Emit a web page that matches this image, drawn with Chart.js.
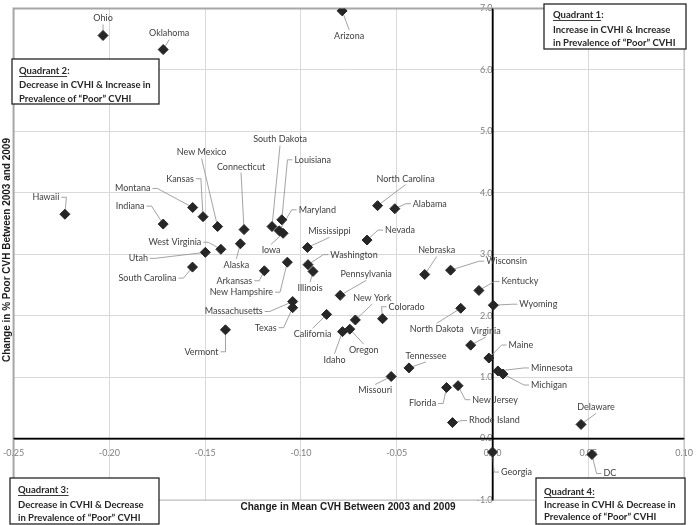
<!DOCTYPE html>
<html>
<head>
<meta charset="utf-8">
<script src="https://cdn.jsdelivr.net/npm/chart.js@4.4.1/dist/chart.umd.min.js"></script>
<style>
  html, body { margin: 0; padding: 0; background: #fff; }
  #wrap { width: 696px; height: 525px; }
</style>
</head>
<body>
<div id="wrap"><canvas id="chart"></canvas></div>
<script>
// values
const states = [
  "Ohio", "Oklahoma", "Arizona", "Hawaii", "Indiana", "Montana", "Kansas",
  "New Mexico", "Connecticut", "South Dakota", "Louisiana", "Maryland", "Iowa",
  "Mississippi", "West Virginia", "Alaska", "Utah", "South Carolina", "Arkansas",
  "New Hampshire", "Washington", "Illinois", "Massachusetts", "Texas", "Vermont",
  "California", "Pennsylvania", "Idaho", "Oregon", "New York", "Colorado",
  "North Carolina", "Alabama", "Nevada", "Nebraska", "Wisconsin", "Kentucky",
  "Wyoming", "North Dakota", "Virginia", "Maine", "Minnesota", "Michigan",
  "Tennessee", "Missouri", "Florida", "New Jersey", "Rhode Island", "Delaware",
  "Georgia", "DC"
];
const cvhChange = [
  -0.2033, -0.1719, -0.0785, -0.2232, -0.1719, -0.1565, -0.1511,
  -0.1435, -0.1297, -0.1151, -0.1100, -0.1113, -0.1093,
  -0.0966, -0.1418, -0.1316, -0.1499, -0.1566, -0.1191,
  -0.1071, -0.0963, -0.0937, -0.1043, -0.1043, -0.1394,
  -0.0866, -0.0795, -0.0783, -0.0745, -0.0716, -0.0574,
  -0.0600, -0.0510, -0.0655, -0.0354, -0.0219, -0.0071,
  0.0004, -0.0166, -0.0114, -0.0019, 0.0028, 0.0055,
  -0.0436, -0.0529, -0.0240, -0.0180, -0.0209, 0.0462,
  0.0000, 0.0519
];
const poorChange = [
  6.56, 6.33, 6.96, 3.65, 3.49, 3.76, 3.61,
  3.45, 3.40, 3.45, 3.56, 3.38, 3.34,
  3.11, 3.08, 3.17, 3.03, 2.79, 2.73,
  2.87, 2.83, 2.72, 2.23, 2.13, 1.77,
  2.02, 2.33, 1.74, 1.78, 1.93, 1.95,
  3.79, 3.74, 3.23, 2.67, 2.74, 2.41,
  2.17, 2.12, 1.52, 1.31, 1.10, 1.05,
  1.15, 1.01, 0.83, 0.86, 0.26, 0.23,
  -0.22, -0.26
];
const xTicks = [-0.25, -0.20, -0.15, -0.10, -0.05, 0.00, 0.05, 0.10];
const yTicks = [-1, 0, 1, 2, 3, 4, 5, 6, 7];
const xTitle = "Change in Mean CVH Between 2003 and 2009";
const yTitle = "Change in % Poor CVH Between 2003 and 2009";

// label placement (pixel offset of label centre from its marker)
const labelOffsets = [
  [0, -17], [6, -16], [7, 25], [-19, -17], [-33, -18], [-60, -19], [-23, -38],
  [-16, -74], [-3, -63], [8, -87], [31, -60], [38, -21], [-12, 17],
  [22, -16], [-46, -7], [-4, 21], [-67, 6], [-45, 11], [-30, 10],
  [-46, 30], [46, -10], [-3, 17], [-59, 10], [-27, 20], [-24, 22],
  [-14, 20], [26, -21], [-8, 28], [14, 21], [17, -22], [24, -12],
  [28, -27], [35, -5], [33, -10], [12, -24], [56, -9], [41, -9],
  [45, -1], [-24, 21], [15, -14], [32, -13], [54, -3], [46, 11],
  [17, -12], [-16, 14], [-24, 16], [37, 14], [42, -2], [15, -17],
  [24, 20], [18, 19]
];

const quadrants = [
  { box: [544, 4, 142, 45], textX: 553, lineY: [15, 30, 43],
    head: "Quadrant 1", tail: ":", lines: ["Increase in CVHI & Increase", "in Prevalence of \u201cPoor\u201d CVHI"] },
  { box: [12, 59, 147, 45], textX: 19, lineY: [71, 85, 99],
    head: "Quadrant 2", tail: ":", lines: ["Decrease in CVHI & Increase in", "Prevalence of \u201cPoor\u201d CVHI"] },
  { box: [10, 478, 149, 46], textX: 18, lineY: [490, 505, 518],
    head: "Quadrant 3:", tail: "", lines: ["Decrease in CVHI & Decrease", "in Prevalence of \u201cPoor\u201d CVHI"] },
  { box: [536, 478, 149, 46], textX: 544, lineY: [492, 505, 517],
    head: "Quadrant 4:", tail: "", lines: ["Increase in CVHI & Decrease in", "Prevalence of \u201cPoor\u201d CVHI"] }
];

const points = states.map((s, i) => ({ x: cvhChange[i], y: poorChange[i] }));
const labelFont = "9px Lato";

const fmt = (v, d) => (Math.abs(v) < 1e-9 ? 0 : v).toFixed(d);

const frame = {
  id: "frame",
  beforeDatasetsDraw(chart) {
    const { ctx, chartArea: a } = chart;
    ctx.save();
    ctx.strokeStyle = "#a6a6a6";
    ctx.lineWidth = 2;
    ctx.beginPath();
    ctx.moveTo(a.left, a.bottom);
    ctx.lineTo(a.left, a.top);
    ctx.lineTo(a.right, a.top);
    ctx.stroke();
    ctx.lineWidth = 1.2;
    ctx.strokeStyle = "#bfbfbf";
    ctx.beginPath();
    ctx.moveTo(a.right, a.top);
    ctx.lineTo(a.right, a.bottom);
    ctx.lineTo(a.left, a.bottom);
    ctx.stroke();
    // redraw the crossing axes over the frame
    const x0 = chart.scales.x.getPixelForValue(0);
    const y0 = chart.scales.y.getPixelForValue(0);
    ctx.strokeStyle = "#000";
    ctx.lineWidth = 1.5;
    ctx.beginPath();
    ctx.moveTo(x0, a.top); ctx.lineTo(x0, a.bottom);
    ctx.moveTo(a.left, y0); ctx.lineTo(a.right, y0);
    ctx.stroke();
    ctx.restore();
  }
};

const stateLabels = {
  id: "stateLabels",
  beforeDatasetsDraw(chart) {
    const { ctx } = chart;
    const meta = chart.getDatasetMeta(0);
    ctx.save();
    ctx.font = labelFont;
    ctx.strokeStyle = "#8c8c8c";
    ctx.lineWidth = 0.8;
    meta.data.forEach((pt, i) => {
      const [dx, dy] = labelOffsets[i];
      const lx = pt.x + dx, ly = pt.y + dy;
      const w = ctx.measureText(states[i]).width;
      let ax, ay, sx, sy;
      if (Math.abs(dx) > w / 2 + 3) {
        const s = Math.sign(dx);
        ax = lx - s * (w / 2 + 2); ay = ly;
        sx = ax - s * 5; sy = ay;
      } else {
        ax = lx; ay = ly - Math.sign(dy) * 6;
        sx = ax; sy = ay;
      }
      if (Math.hypot(pt.x - ax, pt.y - ay) < 8) return;
      ctx.beginPath();
      ctx.moveTo(ax, ay);
      ctx.lineTo(sx, sy);
      ctx.lineTo(pt.x, pt.y);
      ctx.stroke();
    });
    ctx.restore();
  },
  afterDatasetsDraw(chart) {
    const { ctx } = chart;
    const meta = chart.getDatasetMeta(0);
    ctx.save();
    ctx.font = labelFont;
    ctx.fillStyle = "#404040";
    ctx.textAlign = "center";
    ctx.textBaseline = "middle";
    meta.data.forEach((pt, i) => {
      const [dx, dy] = labelOffsets[i];
      ctx.fillText(states[i], pt.x + dx, pt.y + dy);
    });
    ctx.restore();
  }
};

const annotations = {
  id: "annotations",
  afterDraw(chart) {
    const { ctx, chartArea: a } = chart;
    ctx.save();
    ctx.fillStyle = "#1a1a1a";
    ctx.font = "bold 10px 'Liberation Sans', Arial, sans-serif";
    ctx.textAlign = "center";
    ctx.textBaseline = "middle";
    ctx.fillText(xTitle, 348, 507);
    ctx.translate(7, 250);
    ctx.rotate(-Math.PI / 2);
    ctx.fillText(yTitle, 0, 0);
    ctx.restore();

    quadrants.forEach(q => {
      const [bx, by, bw, bh] = q.box;
      ctx.save();
      ctx.fillStyle = "#fff";
      ctx.fillRect(bx, by, bw, bh);
      ctx.strokeStyle = "#262626";
      ctx.lineWidth = 1.3;
      ctx.strokeRect(bx, by, bw, bh);
      ctx.fillStyle = "#262626";
      ctx.font = "bold 9.5px Lato";
      ctx.textAlign = "left";
      ctx.textBaseline = "middle";
      const hw = ctx.measureText(q.head).width;
      ctx.fillText(q.head, q.textX, q.lineY[0]);
      ctx.fillText(q.tail, q.textX + hw, q.lineY[0]);
      ctx.lineWidth = 0.9;
      ctx.beginPath();
      ctx.moveTo(q.textX, q.lineY[0] + 5.5);
      ctx.lineTo(q.textX + hw, q.lineY[0] + 5.5);
      ctx.stroke();
      q.lines.forEach((t, k) => ctx.fillText(t, q.textX, q.lineY[k + 1]));
      ctx.restore();
    });
  }
};

new Chart(document.getElementById("chart"), {
  type: "scatter",
  data: {
    datasets: [{
      data: points,
      pointStyle: "rectRot",
      pointRadius: 5,
      pointHoverRadius: 5,
      backgroundColor: "#262626",
      borderColor: "#262626",
      borderWidth: 1
    }]
  },
  options: {
    responsive: true,
    maintainAspectRatio: false,
    animation: false,
    events: [],
    layout: { padding: { left: 11, right: 10, top: 4, bottom: 25 } },
    plugins: { legend: { display: false }, tooltip: { enabled: false } },
    scales: {
      x: {
        type: "linear",
        min: -0.25,
        max: 0.10,
        position: { y: 0 },
        afterBuildTicks: s => { s.ticks = xTicks.map(v => ({ value: v })); },
        ticks: {
          callback: v => fmt(v, 2),
          color: "#808080",
          font: { family: "Lato", size: 9 },
          maxRotation: 0,
          autoSkip: false
        },
        grid: { color: "#d9d9d9", lineWidth: 1, tickLength: 6, tickColor: "rgba(0,0,0,0)" },
        border: { display: true, color: "#000", width: 1.5 }
      },
      y: {
        type: "linear",
        min: -1,
        max: 7,
        position: { x: 0 },
        afterBuildTicks: s => { s.ticks = yTicks.map(v => ({ value: v })); },
        ticks: {
          callback: v => fmt(v, 1),
          color: "#808080",
          font: { family: "Lato", size: 9 },
          autoSkip: false
        },
        grid: { color: "#d9d9d9", lineWidth: 1, tickLength: 8, tickColor: "rgba(0,0,0,0)" },
        border: { display: true, color: "#000", width: 1.5 }
      }
    }
  },
  plugins: [frame, stateLabels, annotations]
});
</script>
</body>
</html>
